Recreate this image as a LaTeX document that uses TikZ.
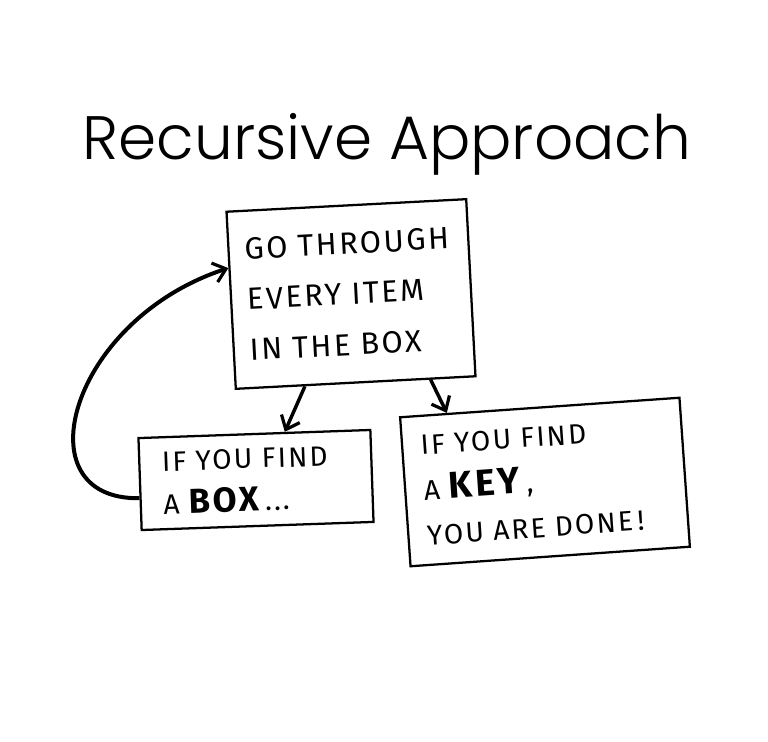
\documentclass[tikz,border=0pt]{standalone}
\usepackage{fontspec}
\setmainfont{Fira Sans}
\newfontfamily\titlefont{Poppins}[UprightFont=*-Light]
\newfontfamily\handfont{Fira Sans}[LetterSpace=8]
\usetikzlibrary{positioning}
\usetikzlibrary{calc}
\usetikzlibrary{arrows.meta}

\tikzset{
  sketchbox/.style={draw, line width=1.7pt, align=left, inner sep=0pt},
  sketcharrow/.style={-{Straight Barb[length=9pt,width=15pt,line width=2.4pt]}, line width=2.6pt},
}

\begin{document}
\begin{tikzpicture}[x=0.75pt,y=-0.75pt]
\useasboundingbox (0,0) rectangle (768,742);
\node (title) at (387,144) {\titlefont\fontsize{46}{46}\selectfont Recursive Approach};

\node[sketchbox, font=\handfont\fontsize{23}{38}\selectfont, minimum width=180pt, minimum height=133pt, text width=156pt, rotate=3]
  (scan) at (351,294) {GO THROUGH\\EVERY ITEM\\IN THE BOX};
\node[sketchbox, font=\handfont\fontsize{21}{32}\selectfont, minimum width=174pt, minimum height=69pt, text width=140pt, rotate=2]
  (boxcase) at (256,480)
  {IF YOU FIND\\A {\bfseries\fontsize{26}{32}\selectfont BOX\,}...};
\node[sketchbox, font=\handfont\fontsize{21}{34}\selectfont, minimum width=210pt, minimum height=112pt, text width=182pt, rotate=4]
  (keycase) at (545,482)
  {IF YOU FIND\\A {\bfseries\fontsize{28}{34}\selectfont KEY\,},\\YOU ARE DONE\,!};

\draw[sketcharrow] ($(scan.south)!0.42!(scan.south west)$) -- ($(boxcase.north)!0.26!(boxcase.north east)$);
\draw[sketcharrow] ($(scan.south)!0.62!(scan.south east)$) -- ($(keycase.north)!0.66!(keycase.north west)$);
\draw[sketcharrow, line width=3pt] ($(boxcase.west)!0.3!(boxcase.south west)$)
  .. controls (20,500) and (70,320) .. ($(scan.west)!0.36!(scan.north west)$);
\end{tikzpicture}
\end{document}
